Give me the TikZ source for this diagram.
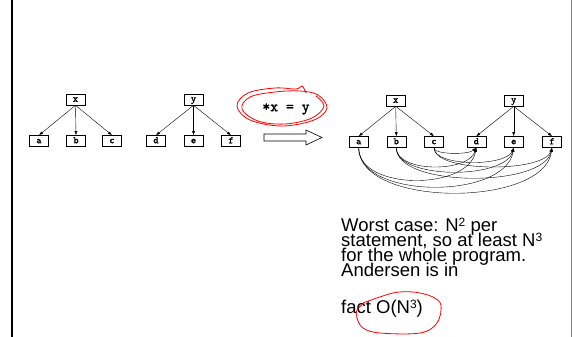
\documentclass[tikz,border=0pt]{standalone}
\usepackage{fontspec}
\setmainfont{Liberation Sans}
\newfontfamily\codefont{lmmono10-regular}[Extension=.otf, FakeBold=1.6]
\newcommand\notefont{\fontsize{18.5}{15}\selectfont\lineskiplimit -30pt\relax}
\newcommand\upidx[1]{\raisebox{5pt}{\fontsize{12}{12}\selectfont #1}}
\usetikzlibrary{arrows.meta}

\begin{document}
\begin{tikzpicture}[x=1pt,y=-1pt]
\tikzset{
  var/.style={draw, line width=0.6pt, font=\codefont\fontsize{10}{10}\selectfont,
    minimum width=19pt, minimum height=11pt, inner sep=0pt, text height=5.5pt, text depth=1pt},
  ptsto/.style={-{Latex[length=4pt,width=3pt]}, line width=0.4pt},
  scribble/.style={red, line width=0.8pt, line cap=round, line join=round},
}
\useasboundingbox (0,0) rectangle (574,337);

 % le cadre
  \draw[line width=2pt] (11.5,0) -- (11.5,337);
  \draw[gray, line width=0.8pt] (571.5,0) -- (571.5,337);

 % avant : les deux arbres
  \node[var] (lx) at (75.5,99.5) {x};
  \node[var] (ly) at (193.5,99.5) {y};
  \foreach \n/\px in {a/39,b/76,c/112,d/156,e/193.5,f/231}
    \node[var] (l\n) at (\px,141) {\n};
  \foreach \n in {a,b,c} \draw[ptsto] (lx.south) -- (l\n.north);
  \foreach \n in {d,e,f} \draw[ptsto] (ly.south) -- (l\n.north);

 % l'instruction et la flèche
  \node[font=\codefont\fontsize{15}{15}\selectfont] (stmt) at (286,109) {*x = y};
  \draw[line width=0.6pt] (264,134) -- (306,134) -- (306,130) -- (322,137.5)
    -- (306,145) -- (306,141) -- (264,141) -- cycle;

 % après
  \node[var] (rx) at (395.7,100.5) {x};
  \node[var] (ry) at (513.7,100.5) {y};
  \foreach \n/\px in {a/358.7,b/396.3,c/434,d/476.3,e/513.7,f/552}
    \node[var] (r\n) at (\px,142) {\n};
  \foreach \n in {a,b,c} \draw[ptsto] (rx.south) -- (r\n.north);
  \foreach \n in {d,e,f} \draw[ptsto] (ry.south) -- (r\n.north);
  \foreach \s/\t/\h in {c/d/7,c/e/19,c/f/25,b/d/25,b/e/32,b/f/40,a/d/43,a/e/52,a/f/60}
    \draw[ptsto] (r\s.south) .. controls +(0,\h) and +(-8,\h) .. (r\t.south);

% du texte
  \node[anchor=north west, align=left, inner sep=0pt, font=\notefont]
    (note) at (341,218) {Worst case: N\upidx{2} per\\statement, so at least N\upidx{3}\\
    for the whole program.\\Andersen is in\\[21.5pt]fact O(N\upidx{3})};

 % les traits rouges à la main
  \draw[scribble] plot[smooth, tension=0.6] coordinates {(306,93) (302,86) (296,89) (275,88)
    (248,93) (237,106) (250,120) (282,126) (314,120) (327,108) (318,95) (300,91) (275,92)
    (250,97) (242,109) (258,121) (285,124) (312,118) (324,106) (316,96)};
  \draw[scribble] plot[smooth, tension=0.6] coordinates {(363,303) (393,293) (413,292)
    (428,295) (433,297) (441,305) (437,323) (420,333) (380,333) (363,328) (357,318)
    (357,310) (364,303)};
\end{tikzpicture}
\end{document}
